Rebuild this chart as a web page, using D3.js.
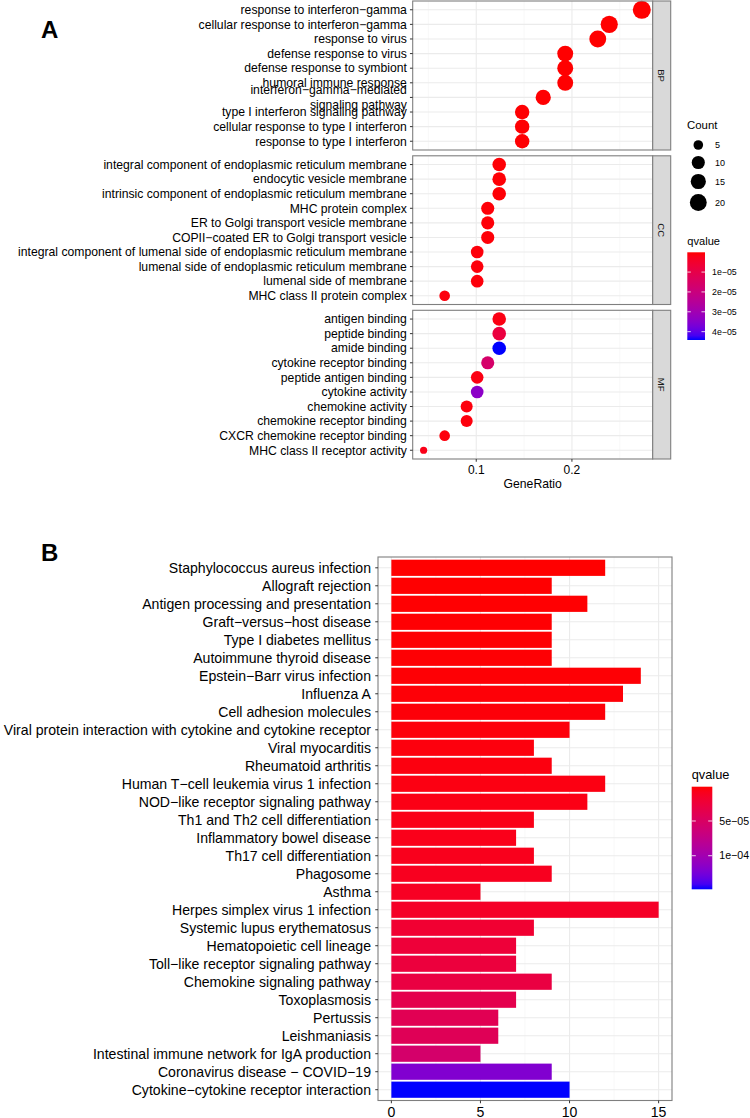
<!DOCTYPE html>
<html><head><meta charset="utf-8">
<script src="https://cdn.jsdelivr.net/npm/d3@7"></script>
<style>
body{margin:0;background:#fff}
svg{display:block}
text{font-family:"Liberation Sans",Arial,Helvetica,sans-serif}
</style>
</head><body>
<svg id="chart" width="750" height="1118"></svg>
<script>
// ---------------- DATA : panel A (GO dot plot) ----------------
const bpTerms = ["response to interferon−gamma","cellular response to interferon−gamma","response to virus","defense response to virus","defense response to symbiont","humoral immune response","interferon−gamma−mediated\nsignaling pathway","type I interferon signaling pathway","cellular response to type I interferon","response to type I interferon"];
const bpRatio = [0.273,0.239,0.227,0.193,0.193,0.193,0.170,0.148,0.148,0.148];
const bpCount = [24,21,20,17,17,17,15,13,13,13];
const bpQ     = [5e-8,5e-8,5e-8,1e-7,1e-7,1e-7,2e-7,3e-7,3e-7,3e-7];

const ccTerms = ["integral component of endoplasmic reticulum membrane","endocytic vesicle membrane","intrinsic component of endoplasmic reticulum membrane","MHC protein complex","ER to Golgi transport vesicle membrane","COPII−coated ER to Golgi transport vesicle","integral component of lumenal side of endoplasmic reticulum membrane","lumenal side of endoplasmic reticulum membrane","lumenal side of membrane","MHC class II protein complex"];
const ccRatio = [0.124,0.124,0.124,0.112,0.112,0.112,0.101,0.101,0.101,0.067];
const ccCount = [11,11,11,10,10,10,9,9,9,6];
const ccQ     = [5e-7,5e-7,5e-7,6e-7,6e-7,6e-7,8e-7,8e-7,8e-7,1e-6];

const mfTerms = ["antigen binding","peptide binding","amide binding","cytokine receptor binding","peptide antigen binding","cytokine activity","chemokine activity","chemokine receptor binding","CXCR chemokine receptor binding","MHC class II receptor activity"];
const mfRatio = [0.124,0.124,0.124,0.112,0.101,0.101,0.090,0.090,0.067,0.045];
const mfCount = [11,11,11,10,9,9,8,8,6,4];
const mfQ     = [1.5e-6,8e-6,4.42e-5,1.6e-5,1.5e-6,3.4e-5,1e-6,1e-6,1e-6,2e-6];

const facetNames = ["BP","CC","MF"];
const xTicksA = [0.1,0.2];
const sizeBreaks = [5,10,15,20];
const qTicksA = [1e-5,2e-5,3e-5,4e-5];
const qTickLabelsA = ["1e−05","2e−05","3e−05","4e−05"];

// ---------------- DATA : panel B (KEGG bar plot) ----------------
const keggTerms = ["Staphylococcus aureus infection","Allograft rejection","Antigen processing and presentation","Graft−versus−host disease","Type I diabetes mellitus","Autoimmune thyroid disease","Epstein−Barr virus infection","Influenza A","Cell adhesion molecules","Viral protein interaction with cytokine and cytokine receptor","Viral myocarditis","Rheumatoid arthritis","Human T−cell leukemia virus 1 infection","NOD−like receptor signaling pathway","Th1 and Th2 cell differentiation","Inflammatory bowel disease","Th17 cell differentiation","Phagosome","Asthma","Herpes simplex virus 1 infection","Systemic lupus erythematosus","Hematopoietic cell lineage","Toll−like receptor signaling pathway","Chemokine signaling pathway","Toxoplasmosis","Pertussis","Leishmaniasis","Intestinal immune network for IgA production","Coronavirus disease − COVID−19","Cytokine−cytokine receptor interaction"];
const keggCount = [12,9,11,9,9,9,14,13,12,10,8,9,12,11,8,7,8,9,5,15,8,7,7,9,7,6,6,5,9,10];
const keggQ = [5.9e-7,8e-7,1e-6,1.2e-6,1.4e-6,1.6e-6,1.9e-6,2.3e-6,2.7e-6,3.2e-6,3.7e-6,4.2e-6,5e-6,6e-6,7e-6,8e-6,9e-6,1.0e-5,1.2e-5,1.4e-5,2.0e-5,2.4e-5,2.6e-5,2.9e-5,3.6e-5,4.0e-5,4.2e-5,5.5e-5,1.2e-4,1.484e-4];
const xTicksB = [0,5,10,15];
const qTicksB = [5e-5,1e-4];
const qTickLabelsB = ["5e−05","1e−04"];

// ---------------- DRAWING ----------------
const svg = d3.select("#chart");
const BORDER = "#7f7f7f", GRID = "#ebebeb";

// ===== Panel A =====
const facets = [
  {name:"BP", terms:bpTerms, ratio:bpRatio, count:bpCount, q:bpQ, y0:1, y1:150},
  {name:"CC", terms:ccTerms, ratio:ccRatio, count:ccCount, q:ccQ, y0:155.8, y1:304.5},
  {name:"MF", terms:mfTerms, ratio:mfRatio, count:mfCount, q:mfQ, y0:310.3, y1:459}
];
const allRatio = bpRatio.concat(ccRatio, mfRatio);
const allCount = bpCount.concat(ccCount, mfCount);
const allQ = bpQ.concat(ccQ, mfQ);
const rMin = d3.min(allRatio), rMax = d3.max(allRatio), rSpan = rMax - rMin;
const xA = d3.scaleLinear().domain([rMin - 0.05*rSpan, rMax + 0.05*rSpan]).range([412.7, 652.7]);
const cMin = d3.min(allCount), cMax = d3.max(allCount);
const rScale = d3.scaleLinear().domain([0,1]).range([3.6, 9.0]);
const sizeOf = c => rScale(Math.sqrt((c - cMin)/(cMax - cMin)));
const qMinA = d3.min(allQ), qMaxA = d3.max(allQ);
const colA = d3.scaleLinear().domain([qMinA, qMaxA]).range(["red","blue"]).interpolate(d3.interpolateLab);

const stripX0 = 652.7, stripX1 = 670.7;
const minorA = d3.range(0.05, 0.30, 0.05).filter(v => v > xA.domain()[0] && v < xA.domain()[1]);

facets.forEach(f => {
  const y = d3.scalePoint().domain(f.terms).range([f.y0, f.y1]).padding(0.6);
  const g = svg.append("g");
  g.append("rect").attr("x", xA.range()[0]).attr("y", f.y0).attr("width", xA.range()[1]-xA.range()[0]).attr("height", f.y1-f.y0).attr("fill","#fff");
  g.selectAll(".mn").data(minorA.filter(v => !xTicksA.some(t => Math.abs(t-v) < 1e-9))).join("line")
    .attr("x1", d=>xA(d)).attr("x2", d=>xA(d)).attr("y1", f.y0).attr("y2", f.y1)
    .attr("stroke", "#f4f4f4").attr("stroke-width", 0.6);
  g.selectAll(".mj").data(xTicksA).join("line")
    .attr("x1", d=>xA(d)).attr("x2", d=>xA(d)).attr("y1", f.y0).attr("y2", f.y1)
    .attr("stroke", GRID).attr("stroke-width", 1.1);
  g.selectAll(".hz").data(f.terms).join("line")
    .attr("x1", xA.range()[0]).attr("x2", xA.range()[1]).attr("y1", d=>y(d)).attr("y2", d=>y(d))
    .attr("stroke", GRID).attr("stroke-width", 1.1);
  g.selectAll("circle").data(f.terms.map((t,i)=>({t, r:f.ratio[i], c:f.count[i], q:f.q[i]}))).join("circle")
    .attr("cx", d=>xA(d.r)).attr("cy", d=>y(d.t)).attr("r", d=>sizeOf(d.c)).attr("fill", d=>colA(d.q));
  g.append("rect").attr("x", xA.range()[0]).attr("y", f.y0).attr("width", xA.range()[1]-xA.range()[0]).attr("height", f.y1-f.y0)
    .attr("fill","none").attr("stroke", BORDER).attr("stroke-width", 1.1);
  g.append("rect").attr("x", stripX0).attr("y", f.y0).attr("width", stripX1-stripX0).attr("height", f.y1-f.y0)
    .attr("fill","#d9d9d9").attr("stroke", BORDER).attr("stroke-width", 1.1);
  const sy = (f.y0+f.y1)/2, sx = (stripX0+stripX1)/2;
  g.append("text").attr("transform", `translate(${sx},${sy}) rotate(90)`).attr("text-anchor","middle").attr("dy","0.35em")
    .attr("font-size", 9.5).attr("fill","#1a1a1a").text(f.name);
  g.selectAll(".yt").data(f.terms).join("line")
    .attr("x1", xA.range()[0]-2.75).attr("x2", xA.range()[0]).attr("y1", d=>y(d)).attr("y2", d=>y(d))
    .attr("stroke", "#333").attr("stroke-width", 1);
  f.terms.forEach(t => {
    const lines = t.split("\n");
    const tx = g.append("text").attr("x", xA.range()[0]-5.8).attr("y", y(t)).attr("text-anchor","end")
      .attr("font-size", 12.2).attr("fill","#000");
    const lh = 14.5;
    lines.forEach((ln, k) => {
      tx.append("tspan").attr("x", xA.range()[0]-5.8).attr("y", y(t) + (k - (lines.length-1)/2)*lh).attr("dy","0.35em").text(ln);
    });
  });
});
// x axis A
const mfBottom = facets[2].y1;
svg.selectAll(".xta").data(xTicksA).join("line")
  .attr("x1", d=>xA(d)).attr("x2", d=>xA(d)).attr("y1", mfBottom).attr("y2", mfBottom+2.75)
  .attr("stroke","#333").attr("stroke-width",1);
svg.selectAll(".xla").data(xTicksA).join("text")
  .attr("x", d=>xA(d)).attr("y", 470).attr("dy","0.35em").attr("text-anchor","middle")
  .attr("font-size", 12).attr("fill","#000").text(d=>d3.format(".1f")(d));
svg.append("text").attr("x", (xA.range()[0]+xA.range()[1])/2).attr("y", 484).attr("dy","0.35em")
  .attr("text-anchor","middle").attr("font-size", 12.2).attr("fill","#000").text("GeneRatio");

// Legend A : Count
svg.append("text").attr("x", 687).attr("y", 125).attr("dy","0.35em").attr("font-size", 11.4).attr("fill","#000").text("Count");
const sizeKeyY = [145, 162.5, 181.5, 202.5];
sizeBreaks.forEach((b,i) => {
  svg.append("circle").attr("cx", 698.3).attr("cy", sizeKeyY[i]).attr("r", sizeOf(b)).attr("fill","#000");
  svg.append("text").attr("x", 715).attr("y", sizeKeyY[i]).attr("dy","0.35em").attr("font-size", 9).attr("fill","#000").text(b);
});
function colorbar(id, x, y0, y1, w, scale, ticks, labels, titleY, titleSize, labSize) {
  const defs = svg.append("defs");
  const lg = defs.append("linearGradient").attr("id", id).attr("x1",0).attr("y1",0).attr("x2",0).attr("y2",1);
  const dom = scale.domain();
  d3.range(0, 1.0001, 0.05).forEach(t => {
    lg.append("stop").attr("offset", t).attr("stop-color", scale(dom[0] + t*(dom[1]-dom[0])));
  });
  svg.append("text").attr("x", x).attr("y", titleY).attr("dy","0.35em").attr("font-size", titleSize).attr("fill","#000").text("qvalue");
  svg.append("rect").attr("x", x).attr("y", y0).attr("width", w).attr("height", y1-y0).attr("fill", `url(#${id})`);
  const ys = d3.scaleLinear().domain(dom).range([y0, y1]);
  ticks.forEach((t,i) => {
    const yy = ys(t);
    svg.append("line").attr("x1", x).attr("x2", x + w/5).attr("y1", yy).attr("y2", yy).attr("stroke","#fff").attr("stroke-width",0.8);
    svg.append("line").attr("x1", x + w - w/5).attr("x2", x + w).attr("y1", yy).attr("y2", yy).attr("stroke","#fff").attr("stroke-width",0.8);
    svg.append("text").attr("x", x + w + 7).attr("y", yy).attr("dy","0.35em").attr("font-size", labSize).attr("fill","#000").text(labels[i]);
  });
}
colorbar("gA", 687.3, 252.3, 340, 17.7, colA, qTicksA, qTickLabelsA, 241.5, 11.1, 8.8);

// Panel labels
svg.append("text").attr("x", 41).attr("y", 37.5).attr("font-size", 24).attr("font-weight","bold").attr("fill","#000").text("A");
svg.append("text").attr("x", 41).attr("y", 560.5).attr("font-size", 24).attr("font-weight","bold").attr("fill","#000").text("B");

// ===== Panel B =====
const bx0 = 378, bx1 = 672, by0 = 557, by1 = 1100.5;
const cntMax = d3.max(keggCount);
const xB = d3.scaleLinear().domain([-0.05*cntMax, cntMax*1.05]).range([bx0, bx1]);
const yB = d3.scalePoint().domain(keggTerms).range([by0, by1]).padding(0.6);
const stepB = yB.step();
const colB = d3.scaleLinear().domain([d3.min(keggQ), d3.max(keggQ)]).range(["red","blue"]).interpolate(d3.interpolateLab);
const gB = svg.append("g");
gB.append("rect").attr("x", bx0).attr("y", by0).attr("width", bx1-bx0).attr("height", by1-by0).attr("fill","#fff");
const minorB = [2.5, 7.5, 12.5];
gB.selectAll(".mnb").data(minorB).join("line").attr("x1", d=>xB(d)).attr("x2", d=>xB(d)).attr("y1", by0).attr("y2", by1)
  .attr("stroke","#f4f4f4").attr("stroke-width",0.6);
gB.selectAll(".mjb").data(xTicksB).join("line").attr("x1", d=>xB(d)).attr("x2", d=>xB(d)).attr("y1", by0).attr("y2", by1)
  .attr("stroke",GRID).attr("stroke-width",1.1);
gB.selectAll(".hzb").data(keggTerms).join("line").attr("x1", bx0).attr("x2", bx1).attr("y1", d=>yB(d)).attr("y2", d=>yB(d))
  .attr("stroke",GRID).attr("stroke-width",1.1);
gB.selectAll(".bar").data(keggTerms.map((t,i)=>({t, c:keggCount[i], q:keggQ[i]}))).join("rect")
  .attr("x", xB(0)).attr("y", d=>yB(d.t) - 0.45*stepB).attr("width", d=>xB(d.c)-xB(0)).attr("height", 0.9*stepB)
  .attr("fill", d=>colB(d.q));
gB.append("rect").attr("x", bx0).attr("y", by0).attr("width", bx1-bx0).attr("height", by1-by0)
  .attr("fill","none").attr("stroke",BORDER).attr("stroke-width",1.1);
gB.selectAll(".ytb").data(keggTerms).join("line").attr("x1", bx0-2.75).attr("x2", bx0).attr("y1", d=>yB(d)).attr("y2", d=>yB(d))
  .attr("stroke","#333").attr("stroke-width",1);
gB.selectAll(".ylb").data(keggTerms).join("text").attr("x", bx0-7).attr("y", d=>yB(d)).attr("dy","0.35em")
  .attr("text-anchor","end").attr("font-size", 14.1).attr("fill","#000").text(d=>d);
gB.selectAll(".xtb").data(xTicksB).join("line").attr("x1", d=>xB(d)).attr("x2", d=>xB(d)).attr("y1", by1).attr("y2", by1+2.75)
  .attr("stroke","#333").attr("stroke-width",1);
gB.selectAll(".xlb").data(xTicksB).join("text").attr("x", d=>xB(d)).attr("y", 1112.5).attr("dy","0.35em")
  .attr("text-anchor","middle").attr("font-size", 14.1).attr("fill","#000").text(d=>d);

colorbar("gB", 691.7, 786.7, 889.3, 20.6, colB, qTicksB, qTickLabelsB, 775, 12.8, 10.6);
</script>
</body></html>
